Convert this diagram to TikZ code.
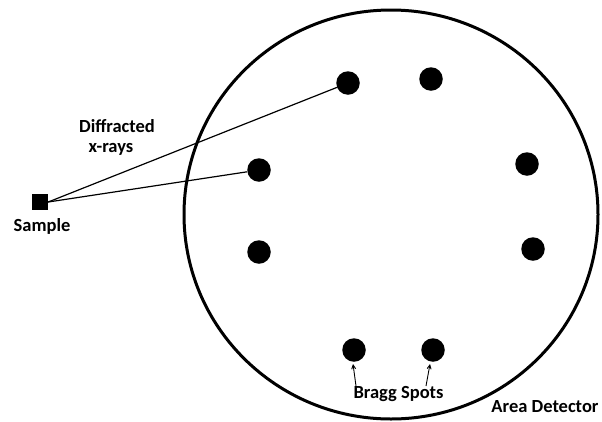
\documentclass[tikz,border=0pt]{standalone}
\usepackage{fontspec}
\setmainfont{Carlito}
\usetikzlibrary{arrows.meta}
\tikzset{
  spot/.style={circle,fill=black,draw=none,minimum size=23.5pt,inner sep=0pt},
  lbl/.style={font=\fontsize{18.5}{20}\selectfont\bfseries,inner sep=0pt},
  ray/.style={line width=1.2pt},
  barrow/.style={line width=0.9pt,-{Straight Barb[length=4pt,width=4pt]}}
}
\begin{document}
\begin{tikzpicture}[x=1pt,y=-1pt]
\useasboundingbox (0,0) rectangle (602,421);
% detector
\draw[line width=3pt] (391,214.5) ellipse [x radius=207, y radius=204.5];
% spots
\node[spot] (s1) at (348,83) {};
\node[spot] (s2) at (431,79) {};
\node[spot] (s3) at (259,170) {};
\node[spot] (s4) at (527,164) {};
\node[spot] (s5) at (259,252) {};
\node[spot] (s6) at (533,249) {};
\node[spot] (s7) at (354,350) {};
\node[spot] (s8) at (433,350) {};
% sample
\node[fill=black,minimum size=16pt,inner sep=0pt] (sample) at (40,202) {};
\draw[ray] (sample.east) -- (s1);
\draw[ray] (sample.east) -- (s3);
% labels
\node[lbl] (samplelbl) at (42,226) {Sample};
\node[lbl] (diff) at (117,126) {Diffracted};
\node[lbl] (xr) at (111,149) {x-rays};
\node[lbl] (bragg) at (398.5,394) {Bragg Spots};
\node[lbl] (area) at (545,407) {Area Detector};
% bragg arrows
\coordinate (t1) at (356,386);
\coordinate (t2) at (426,386);
\draw[barrow] (t1) -- (353,364);
\draw[barrow] (t2) -- (430,364);
\end{tikzpicture}
\end{document}
